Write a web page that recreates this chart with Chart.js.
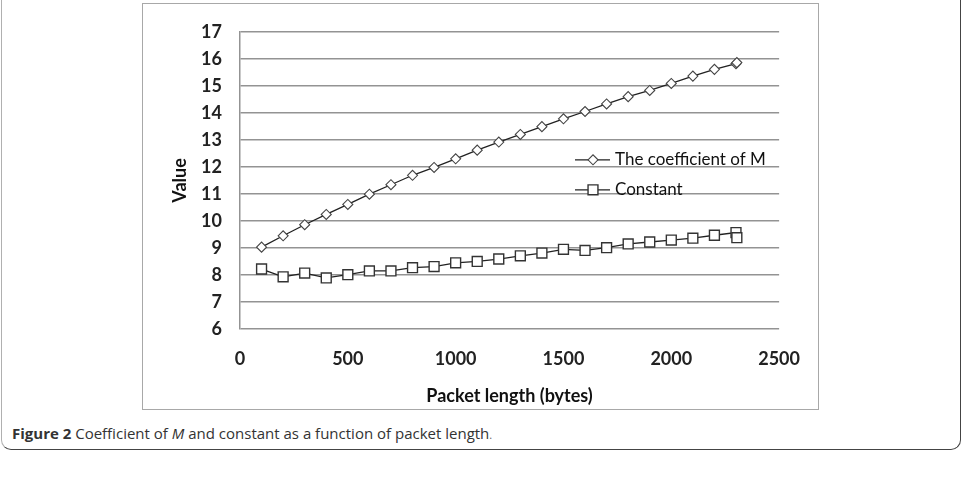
<!DOCTYPE html>
<html>
<head>
<meta charset="utf-8">
<script src="https://cdn.jsdelivr.net/npm/chart.js@4.4.1/dist/chart.umd.min.js"></script>
<style>
  html, body { margin: 0; padding: 0; background: #fff; }
  body { width: 967px; height: 488px; position: relative; overflow: hidden; }
  #frame {
    position: absolute; left: 1px; top: -20px; width: 958px; height: 469px;
    border: 1.5px solid #444; border-left-color: #b0b0b0; border-top: none;
    border-radius: 0 0 10px 10px;
  }
  #plot { position: absolute; left: 142px; top: 3px; }
  #box {
    position: absolute; left: 142px; top: 3px; width: 677px; height: 407px;
    box-sizing: border-box; border: 1.5px solid #a8a8a8; pointer-events: none;
  }
  #caption {
    position: absolute; left: 12px; top: 423px;
    font-family: "Open Sans", sans-serif; font-size: 15px; color: #333; white-space: nowrap;
  }
  #caption b { font-weight: 700; }
  #caption small { font-size: 11px; color: #666; }
</style>
</head>
<body>
<div id="frame"></div>
<canvas id="plot" width="677" height="407"></canvas>
<div id="box"></div>
<div id="caption"><b>Figure 2</b> Coefficient of <i>M</i> and constant as a function of packet length<small>.</small></div>
<script>
const packetLengths = [100, 200, 300, 400, 500, 600, 700, 800, 900, 1000, 1100, 1200,
  1300, 1400, 1500, 1600, 1700, 1800, 1900, 2000, 2100, 2200, 2300, 2304];
const coefM = [9.03, 9.45, 9.86, 10.24, 10.61, 10.99, 11.34, 11.69, 11.98, 12.30, 12.62, 12.92,
  13.20, 13.49, 13.78, 14.05, 14.33, 14.60, 14.83, 15.09, 15.36, 15.61, 15.82, 15.86];
const constant = [8.22, 7.93, 8.07, 7.89, 8.01, 8.15, 8.15, 8.27, 8.31, 8.45, 8.50, 8.59,
  8.71, 8.81, 8.95, 8.91, 9.01, 9.15, 9.22, 9.29, 9.36, 9.47, 9.57, 9.38];
const xTicks = [0, 500, 1000, 1500, 2000, 2500];
const yTicks = [6, 7, 8, 9, 10, 11, 12, 13, 14, 15, 16, 17];
const seriesNames = ['The coefficient of M', 'Constant'];

const toPoints = ys => packetLengths.map((x, i) => ({x: x, y: ys[i]}));

// legend sits inside the plot, line + marker like the Excel one
const legendInPlot = {
  id: 'legendInPlot',
  afterDraw(chart) {
    const ctx = chart.ctx;
    const a = chart.chartArea;
    ctx.save();
    chart.data.datasets.forEach((ds, i) => {
      const y = a.top + 128 + i * 30;
      const x0 = a.left + 335;
      ctx.strokeStyle = ds.borderColor;
      ctx.lineWidth = ds.borderWidth;
      ctx.beginPath();
      ctx.moveTo(x0, y);
      ctx.lineTo(x0 + 35, y);
      ctx.stroke();
      ctx.fillStyle = ds.pointBackgroundColor;
      ctx.strokeStyle = ds.pointBorderColor;
      ctx.lineWidth = ds.pointBorderWidth;
      Chart.helpers.drawPoint(ctx, {pointStyle: ds.pointStyle, radius: ds.pointRadius, borderWidth: ds.pointBorderWidth}, x0 + 18, y);
      ctx.fillStyle = '#111';
      ctx.font = '17px Lato';
      ctx.textBaseline = 'middle';
      ctx.fillText(ds.label, x0 + 40, y);
    });
    ctx.restore();
  }
};

new Chart(document.getElementById('plot').getContext('2d'), {
  type: 'line',
  data: {
    datasets: [{
      label: seriesNames[0],
      data: toPoints(coefM),
      borderColor: '#222',
      borderWidth: 1.3,
      pointStyle: 'rectRot',
      pointRadius: 5,
      pointBackgroundColor: '#fff',
      pointBorderColor: '#444',
      pointBorderWidth: 1.1
    }, {
      label: seriesNames[1],
      data: toPoints(constant),
      borderColor: '#222',
      borderWidth: 1.3,
      pointStyle: 'rect',
      pointRadius: 7,
      pointBackgroundColor: '#fff',
      pointBorderColor: '#333',
      pointBorderWidth: 1.4
    }]
  },
  options: {
    responsive: false,
    animation: false,
    layout: { padding: { top: 11.7, right: 31, left: 0, bottom: 0 } },
    plugins: { legend: { display: false }, tooltip: { enabled: false } },
    scales: {
      x: {
        type: 'linear',
        min: 0, max: 2500,
        afterBuildTicks: s => { s.ticks = xTicks.map(v => ({value: v})); },
        afterFit: s => { s.height = 81; },
        grid: { display: false, drawTicks: false },
        border: { display: false },
        ticks: { padding: 19, color: '#222', callback: v => String(v),
          font: { family: 'Lato', size: 18, weight: 'bold' } },
        title: { display: true, text: 'Packet length (bytes)', color: '#111',
          padding: { top: 0, bottom: 3 }, font: { family: 'Lato', size: 18, weight: 'bold' } }
      },
      y: {
        min: 6, max: 17,
        afterBuildTicks: s => { s.ticks = yTicks.map(v => ({value: v})); },
        afterFit: s => { s.width = 98; },
        grid: { color: '#939393', lineWidth: 1.5, drawTicks: false },
        border: { display: true, color: '#939393', width: 1.5 },
        ticks: { padding: 18, color: '#222', font: { family: 'Lato', size: 18, weight: 'bold' } },
        title: { display: true, text: 'Value', color: '#111',
          padding: { top: 27, bottom: 0 }, font: { family: 'Lato', size: 18, weight: 'bold' } }
      }
    }
  },
  plugins: [legendInPlot]
});
</script>
</body>
</html>
